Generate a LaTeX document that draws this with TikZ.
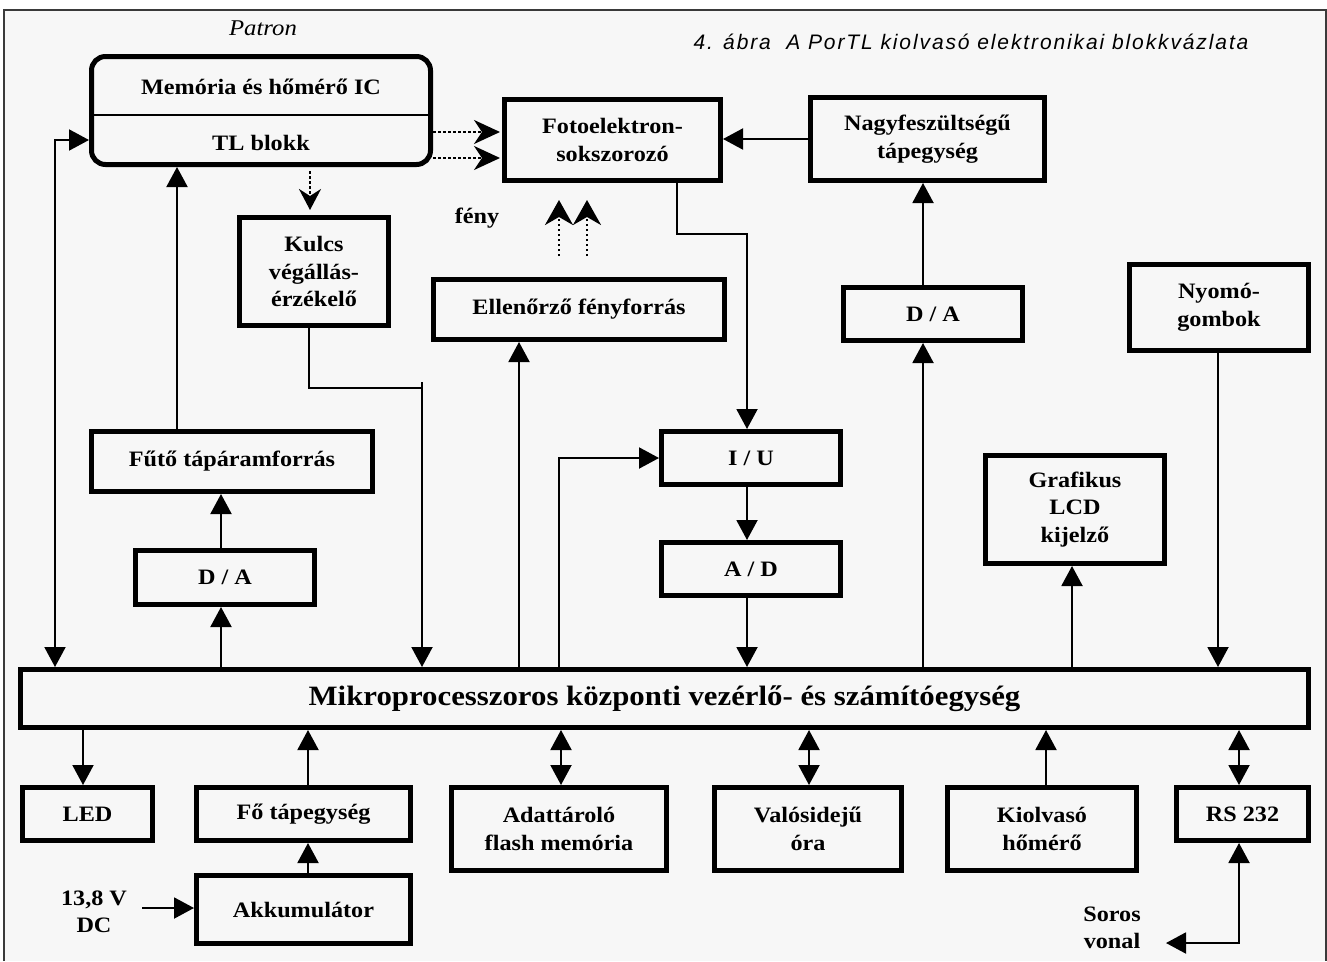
\documentclass[tikz,border=0pt]{standalone}
\usepackage{fontspec}
\setmainfont{Liberation Serif}[FakeStretch=1.1]
\newfontfamily\capfont{Liberation Sans}[LetterSpace=9]
\usetikzlibrary{arrows.meta}

\definecolor{pagebg}{HTML}{F7F7F7}
\definecolor{framegray}{HTML}{3A3A3A}
\newcommand\blkfont{\bfseries\fontsize{22}{27.5}\selectfont}

\tikzset{
  blk/.style={draw, line width=5pt, line join=miter, inner sep=0pt, align=center, font=\blkfont},
  txt/.style={inner sep=0pt, align=center, font=\blkfont},
  conn/.style={line width=2pt, -{Triangle[length=20pt,width=21pt]}},
  biconn/.style={line width=2pt, {Triangle[length=20pt,width=21pt]}-{Triangle[length=20pt,width=21pt]}},
  dotline/.style={line width=2.5pt, dash pattern=on 2.5pt off 2.5pt},
  dotconn/.style={dotline, -{Stealth[length=26pt,width=24pt,inset=8pt]}},
  dotdown/.style={dotline, -{Stealth[length=21pt,width=22pt,inset=7pt]}},
  lightconn/.style={dotline, -{Stealth[length=25pt,width=28pt,inset=8pt]}},
}

\begin{document}
\begin{tikzpicture}[x=1pt,y=-1pt]
\useasboundingbox (0,0) rectangle (1327,961);
% sheet and its frame
\fill[pagebg] (4,10) rectangle (1326,961);
\draw[framegray, line width=1.2pt] (4,961) -- (4,10) -- (1326,10) -- (1326,961);

% headings
\node[inner sep=0pt, font=\itshape\fontsize{22.5}{27}\selectfont] (patron) at (263,28) {Patron};
\node[inner sep=0pt, font=\capfont\itshape\fontsize{21}{25}\selectfont] (caption) at (971,42) {4. ábra\ \ A PorTL kiolvasó elektronikai blokkvázlata};

% cartridge
\node[blk, rounded corners=14pt, minimum width=339pt, minimum height=108pt] (mem) at (261,110.5) {};
\draw[line width=2.5pt] (mem.west |- 0,115) -- (mem.east |- 0,115);
\node[txt] (memic) at (261,87) {Memória és hőmérő IC};
\node[txt] (tlb) at (261,143) {TL blokk};

% upper blocks
\node[blk, minimum width=216pt, minimum height=81pt] (foto) at (612.5,140) {Fotoelektron-\\sokszorozó};
\node[blk, minimum width=234pt, minimum height=83pt] (nagy) at (927.5,139) {Nagyfeszültségű\\tápegység};
\node[blk, minimum width=149pt, minimum height=108pt] (kulcs) at (314,271.5) {Kulcs\\végállás-\\érzékelő};
\node[blk, minimum width=291pt, minimum height=60pt] (ell) at (579,309.5) {Ellenőrző fényforrás};
\node[blk, minimum width=179pt, minimum height=53pt] (da2) at (933,314) {D / A};
\node[blk, minimum width=179pt, minimum height=86pt] (nyomo) at (1219,307.5) {Nyomó-\\gombok};
\node[blk, minimum width=281pt, minimum height=60pt] (futo) at (232,461.5) {Fűtő tápáramforrás};
\node[blk, minimum width=179pt, minimum height=54pt] (da1) at (225,577.5) {D / A};
\node[blk, minimum width=179pt, minimum height=53pt] (iu) at (751,458) {I / U};
\node[blk, minimum width=179pt, minimum height=53pt] (ad) at (751,569) {A / D};
\node[blk, minimum width=179pt, minimum height=108pt] (lcd) at (1075,509.5) {Grafikus\\LCD\\kijelző};
\node[txt] (feny) at (477,218) {fény};

% central unit
\node[blk, minimum width=1288pt, minimum height=58pt, font=\bfseries\fontsize{28}{32}\selectfont] (mikro) at (664.5,698.5) {Mikroprocesszoros központi vezérlő- és számítóegység};

% lower blocks
\node[blk, minimum width=130pt, minimum height=53pt] (led) at (87.5,814) {LED};
\node[blk, minimum width=214pt, minimum height=53pt] (fo) at (303.5,814) {Fő tápegység};
\node[blk, minimum width=215pt, minimum height=83pt] (adat) at (559,829) {Adattároló\\flash memória};
\node[blk, minimum width=187pt, minimum height=83pt] (valos) at (808,829) {Valósidejű\\óra};
\node[blk, minimum width=189pt, minimum height=83pt] (kiolv) at (1042,829) {Kiolvasó\\hőmérő};
\node[blk, minimum width=132pt, minimum height=53pt] (rs) at (1242.5,814) {RS 232};
\node[blk, minimum width=214pt, minimum height=68pt] (akku) at (303.5,909.5) {Akkumulátor};
\node[txt] (dc) at (94,912) {13,8 V\\DC};
\node[txt] (soros) at (1112,928) {Soros\\vonal};
\coordinate (dcout) at (142,908);
\coordinate (sorosin) at (1166,943);

% connectors of the upper half
\draw[biconn] (55,0 |- mikro.north) -- (55,140) -- (mem.west |- 0,140);
\draw[conn] (177,0 |- futo.north) -- (177,0 |- mem.south);
\draw[conn] (221,0 |- da1.north) -- (221,0 |- futo.south);
\draw[conn] (221,0 |- mikro.north) -- (221,0 |- da1.south);
\draw[conn] (309,0 |- kulcs.south) -- (309,388) -- (422,388) (422,382) -- (422,0 |- mikro.north);
\draw[conn] (519,0 |- mikro.north) -- (519,0 |- ell.south);
\draw[conn] (559,0 |- mikro.north) |- (iu.west);
\draw[conn] (677,0 |- foto.south) -- (677,234) -- (747,234) -- (747,0 |- iu.north);
\draw[conn] (nagy.west) -- (foto.east |- nagy.west);
\draw[conn] (923,0 |- da2.north) -- (923,0 |- nagy.south);
\draw[conn] (923,0 |- mikro.north) -- (923,0 |- da2.south);
\draw[conn] (747,0 |- iu.south) -- (747,0 |- ad.north);
\draw[conn] (747,0 |- ad.south) -- (747,0 |- mikro.north);
\draw[conn] (1072,0 |- mikro.north) -- (1072,0 |- lcd.south);
\draw[conn] (1218,0 |- nyomo.south) -- (1218,0 |- mikro.north);

% light and signal paths of the cartridge
\draw[dotconn, shorten >=2pt] (mem.east |- 0,132) -- (foto.west |- 0,132);
\draw[dotconn, shorten >=2pt] (mem.east |- 0,158) -- (foto.west |- 0,158);
\draw[dotdown, shorten <=4pt, shorten >=5pt] (310,0 |- mem.south) -- (310,0 |- kulcs.north);
\draw[lightconn, shorten <=21pt, shorten >=17pt] (559,0 |- ell.north) -- (559,0 |- foto.south);
\draw[lightconn, shorten <=21pt, shorten >=17pt] (587,0 |- ell.north) -- (587,0 |- foto.south);

% connectors of the lower half
\draw[conn] (83,0 |- mikro.south) -- (83,0 |- led.north);
\draw[conn] (308,0 |- fo.north) -- (308,0 |- mikro.south);
\draw[conn] (308,0 |- akku.north) -- (308,0 |- fo.south);
\draw[conn] (dcout) -- (akku.west |- dcout);
\draw[biconn] (561,0 |- mikro.south) -- (561,0 |- adat.north);
\draw[biconn] (809,0 |- mikro.south) -- (809,0 |- valos.north);
\draw[conn] (1046,0 |- kiolv.north) -- (1046,0 |- mikro.south);
\draw[biconn] (1239,0 |- mikro.south) -- (1239,0 |- rs.north);
\draw[biconn] (sorosin) -| (1239,0 |- rs.south);
\end{tikzpicture}
\end{document}
